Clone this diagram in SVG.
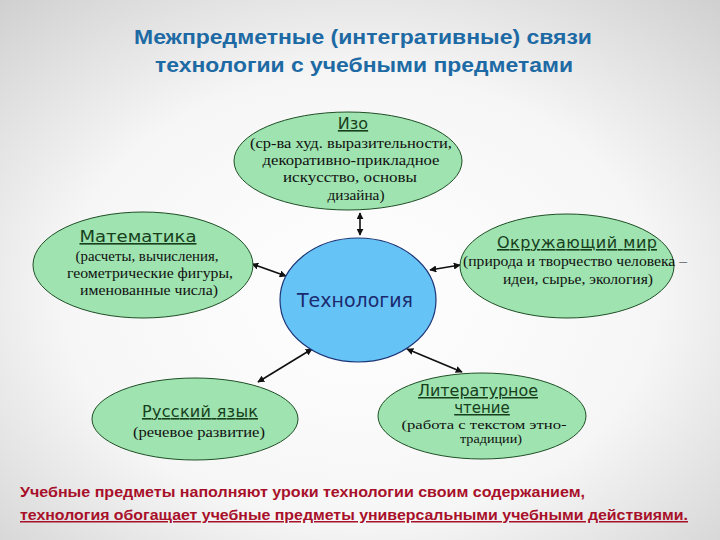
<svg xmlns="http://www.w3.org/2000/svg" width="720" height="540" viewBox="0 0 720 540">
<defs>
<radialGradient id="bg" cx="50%" cy="55%" r="75%">
<stop offset="0" stop-color="#ffffff"/>
<stop offset="0.55" stop-color="#f6f6f6"/>
<stop offset="1" stop-color="#cfcfcf"/>
</radialGradient>
<marker id="ah" viewBox="0 0 10 10" refX="9" refY="5" markerWidth="7" markerHeight="7" orient="auto-start-reverse" markerUnits="userSpaceOnUse">
<path d="M0,0 L10,5 L0,10 z" fill="#111"/>
</marker>
<style>
.title{font-family:"Liberation Sans",Arial,sans-serif;font-weight:bold;font-size:21px;fill:#1d6aa4;text-anchor:middle}
.node{fill:#9ee3b0;stroke:#1f4f26;stroke-width:1}
.center{fill:#66c3f6;stroke:#1b3577;stroke-width:1.2}
.nt{font-family:"DejaVu Sans","Liberation Sans",sans-serif;font-size:16px;fill:#173f1c;text-anchor:middle;text-decoration:underline}
.nb{font-family:"Liberation Serif","DejaVu Serif",serif;font-size:14.5px;fill:#111;text-anchor:middle}
.ct{font-family:"DejaVu Sans","Liberation Sans",sans-serif;font-size:19px;fill:#1b2a6e;text-anchor:middle}
.conn line{stroke:#111;stroke-width:1.6;marker-start:url(#ah);marker-end:url(#ah)}
.foot{font-family:"Liberation Sans",Arial,sans-serif;font-size:15px;font-weight:bold;fill:#a8102a}
</style>
</defs>
<rect width="720" height="540" fill="url(#bg)"/>
<g id="title">
<text class="title" x="363" y="44" textLength="458" lengthAdjust="spacingAndGlyphs">Межпредметные (интегративные) связи</text>
<text class="title" x="364" y="72" textLength="418" lengthAdjust="spacingAndGlyphs">технологии с учебными предметами</text>
</g>
<g class="conn" id="connectors">
<line x1="360" y1="213" x2="360" y2="235"/>
<line x1="252" y1="264" x2="286" y2="276"/>
<line x1="460" y1="265" x2="430" y2="270"/>
<line x1="312" y1="349" x2="258" y2="382"/>
<line x1="407" y1="349" x2="462" y2="372"/>
</g>
<g id="izo">
<ellipse class="node" cx="348" cy="161" rx="114" ry="49"/>
<text class="nt" x="353" y="129">Изо</text>
<text class="nb" x="351" y="148" textLength="202" lengthAdjust="spacingAndGlyphs">(ср-ва худ. выразительности,</text>
<text class="nb" x="351" y="165" textLength="177" lengthAdjust="spacingAndGlyphs">декоративно-прикладное</text>
<text class="nb" x="350" y="182" textLength="134" lengthAdjust="spacingAndGlyphs">искусство, основы</text>
<text class="nb" x="356" y="200" textLength="57" lengthAdjust="spacingAndGlyphs">дизайна)</text>
</g>
<g id="matematika">
<ellipse class="node" cx="143" cy="265" rx="110" ry="53"/>
<text class="nt" x="138" y="242" textLength="117" lengthAdjust="spacingAndGlyphs">Математика</text>
<text class="nb" x="147" y="261" textLength="143" lengthAdjust="spacingAndGlyphs">(расчеты, вычисления,</text>
<text class="nb" x="150" y="278" textLength="166" lengthAdjust="spacingAndGlyphs">геометрические фигуры,</text>
<text class="nb" x="149" y="295" textLength="138" lengthAdjust="spacingAndGlyphs">именованные числа)</text>
</g>
<g id="okruzhayushchiy">
<ellipse class="node" cx="567" cy="266" rx="107" ry="52"/>
<text class="nt" x="577" y="248" textLength="160" lengthAdjust="spacing">Окружающий мир</text>
<text class="nb" x="575" y="266" textLength="224" lengthAdjust="spacingAndGlyphs">(природа и творчество человека –</text>
<text class="nb" x="578" y="284" textLength="150" lengthAdjust="spacingAndGlyphs">идеи, сырье, экология)</text>
</g>
<g id="tekhnologiya">
<ellipse class="center" cx="358" cy="300" rx="78" ry="62"/>
<text class="ct" x="355" y="307">Технология</text>
</g>
<g id="russkiy">
<ellipse class="node" cx="195" cy="419" rx="103" ry="41"/>
<text class="nt" x="200" y="417" textLength="116" lengthAdjust="spacing">Русский язык</text>
<text class="nb" x="199" y="437" textLength="132" lengthAdjust="spacingAndGlyphs">(речевое развитие)</text>
</g>
<g id="literaturnoe">
<ellipse class="node" cx="482" cy="416" rx="104" ry="43"/>
<text class="nt" x="478" y="396" textLength="120" lengthAdjust="spacingAndGlyphs" style="font-size:15px">Литературное</text>
<text class="nt" x="482" y="413" style="font-size:15px">чтение</text>
<text class="nb" x="484" y="429" textLength="165" lengthAdjust="spacingAndGlyphs" style="font-size:13px">(работа с текстом этно-</text>
<text class="nb" x="491" y="443" textLength="62" lengthAdjust="spacingAndGlyphs" style="font-size:13px">традиции)</text>
</g>
<g id="footer">
<text class="foot" x="20" y="497" textLength="565" lengthAdjust="spacingAndGlyphs">Учебные предметы наполняют уроки технологии своим содержанием,</text>
<text class="foot" x="20" y="520" textLength="668" lengthAdjust="spacingAndGlyphs" text-decoration="underline">технология обогащает учебные предметы универсальными учебными действиями.</text>
</g>
</svg>
